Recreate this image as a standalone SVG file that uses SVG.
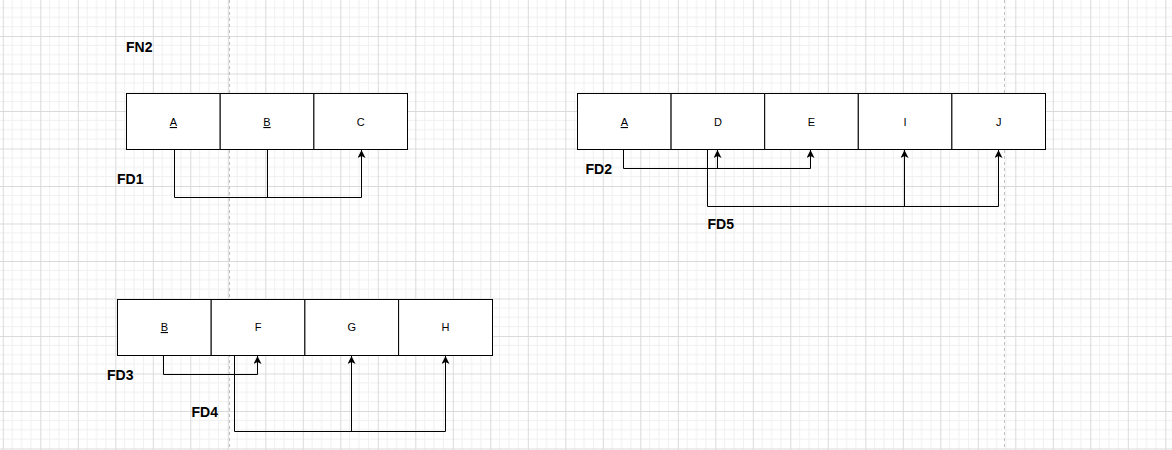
<svg xmlns="http://www.w3.org/2000/svg" width="1172" height="450" viewBox="0 0 1172 450">
<defs>
<pattern id="grid" patternUnits="userSpaceOnUse" x="2.8" y="-1.5" width="37.5" height="37.5">
<path d="M9.375,0V37.5M18.75,0V37.5M28.125,0V37.5M0,9.375H37.5M0,18.75H37.5M0,28.125H37.5" stroke="#f0f0f0" stroke-width="1" fill="none"/>
<path d="M0.5,0V37.5M0,0.5H37.5" stroke="#dadada" stroke-width="1" fill="none"/>
</pattern>
<marker id="arr" markerUnits="userSpaceOnUse" markerWidth="10" markerHeight="10" refX="8" refY="4" orient="auto">
<path d="M0,0 L8,4 L0,8 L2,4 Z" fill="#000"/>
</marker>
<style>
.cell{fill:#fff;stroke:#000;stroke-width:1}
.t{font-family:"Liberation Sans",Arial,sans-serif;font-size:11px;fill:#000;text-anchor:middle}
.u{text-decoration:underline}
.lbl{font-family:"Liberation Sans",Arial,sans-serif;font-size:14px;font-weight:bold;fill:#000}
.c{fill:none;stroke:#000;stroke-width:1}
.page{stroke:#c0c0c0;stroke-width:1;stroke-dasharray:3 3}
</style>
</defs>
<rect width="1172" height="450" fill="#fff"/>
<rect width="1172" height="450" fill="url(#grid)"/>
<line class="page" x1="229.5" y1="0" x2="229.5" y2="450"/>
<line class="page" x1="1004.5" y1="0" x2="1004.5" y2="450"/>

<g id="connectors">
<path class="c" d="M174.5,149 V197.5 H361.5 V150" marker-end="url(#arr)"/>
<path class="c" d="M267.5,149 V197.5"/>
<path class="c" d="M623.5,149 V168.5 H810.5 V150" marker-end="url(#arr)"/>
<path class="c" d="M717.5,168.5 V150" marker-end="url(#arr)"/>
<path class="c" d="M707.5,149 V206.5 H998.5 V150" marker-end="url(#arr)"/>
<path class="c" d="M904.5,206.5 V150" marker-end="url(#arr)"/>
<path class="c" d="M163.5,355 V374.5 H257.5 V356" marker-end="url(#arr)"/>
<path class="c" d="M234.5,355 V431.5 H445.5 V356" marker-end="url(#arr)"/>
<path class="c" d="M351.5,431.5 V356" marker-end="url(#arr)"/>
</g>

<g id="t1">
<g id="t1-A"><rect class="cell" x="126.5" y="93.5" width="93.7" height="56"/><text class="t u" x="173.4" y="126">A</text></g>
<g id="t1-B"><rect class="cell" x="220.2" y="93.5" width="93.7" height="56"/><text class="t u" x="267" y="126">B</text></g>
<g id="t1-C"><rect class="cell" x="313.9" y="93.5" width="93.6" height="56"/><text class="t" x="360.7" y="126">C</text></g>
</g>

<g id="t2">
<g id="t2-A"><rect class="cell" x="577.5" y="93.5" width="93.6" height="56"/><text class="t u" x="624.3" y="126">A</text></g>
<g id="t2-D"><rect class="cell" x="671.1" y="93.5" width="93.6" height="56"/><text class="t" x="717.9" y="126">D</text></g>
<g id="t2-E"><rect class="cell" x="764.7" y="93.5" width="93.6" height="56"/><text class="t" x="811.5" y="126">E</text></g>
<g id="t2-I"><rect class="cell" x="858.3" y="93.5" width="93.6" height="56"/><text class="t" x="905.1" y="126">I</text></g>
<g id="t2-J"><rect class="cell" x="951.9" y="93.5" width="93.6" height="56"/><text class="t" x="998.7" y="126">J</text></g>
</g>

<g id="t3">
<g id="t3-B"><rect class="cell" x="117.5" y="299.5" width="93.7" height="56"/><text class="t u" x="164.3" y="331">B</text></g>
<g id="t3-F"><rect class="cell" x="211.2" y="299.5" width="93.7" height="56"/><text class="t" x="258" y="331">F</text></g>
<g id="t3-G"><rect class="cell" x="304.9" y="299.5" width="93.7" height="56"/><text class="t" x="351.7" y="331">G</text></g>
<g id="t3-H"><rect class="cell" x="398.6" y="299.5" width="93.9" height="56"/><text class="t" x="445.5" y="331">H</text></g>
</g>

<g id="labels">
<text class="lbl" x="126" y="51.5">FN2</text>
<text class="lbl" x="117" y="183.5">FD1</text>
<text class="lbl" x="585.5" y="173.5">FD2</text>
<text class="lbl" x="707.5" y="229">FD5</text>
<text class="lbl" x="107" y="379.5">FD3</text>
<text class="lbl" x="191.5" y="416.5">FD4</text>
</g>
</svg>
